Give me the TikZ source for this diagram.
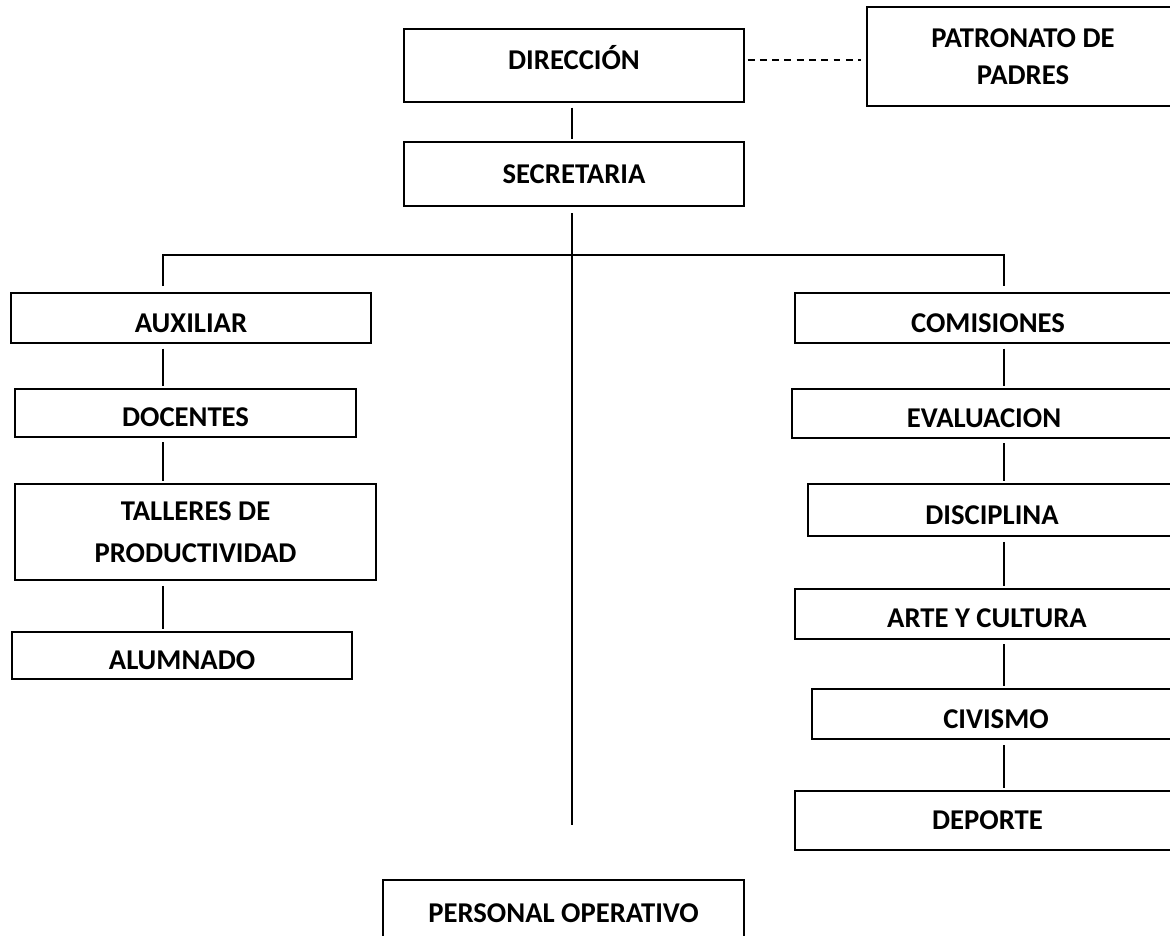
\documentclass[tikz,border=0pt]{standalone}
\usepackage{fontspec}
\setmainfont{Carlito}
\usetikzlibrary{positioning,chains}

\begin{document}
\begin{tikzpicture}[x=0.75pt, y=-0.75pt,
    cargo/.style={rectangle, draw, line width=1.5pt, inner sep=0pt, align=center, font=\bfseries\fontsize{21.5}{30}\selectfont},
    bajo/.style={text height=21pt, text depth=0pt},
    wh/.style 2 args={minimum width=#1*0.75pt, minimum height=#2*0.75pt},
    link/.style={line width=1.1pt, shorten <=3.5pt, shorten >=1.5pt},
    node distance=32.7pt]
    \useasboundingbox (0,0) rectangle (1170,935);
    % Nodes
    \node[cargo, wh={340}{73}, text height=14pt, text depth=8pt] (dir) at (574,65.5) {DIRECCIÓN};
    \node[cargo, wh={340}{64}, below=28.5pt of dir] (sec) {SECRETARIA};
    \node[cargo, wh={312}{99}] (pat) at (1023,56.5) {PATRONATO DE\\[-2pt]PADRES};
    \node[cargo, wh={361}{66}] (per) at (563.5,913) {PERSONAL OPERATIVO};
    % izquierda
    \begin{scope}[start chain=izq going below]
        \node[cargo, bajo, wh={360}{50}, on chain=izq] (aux) at (191,318) {AUXILIAR};
        \node[cargo, bajo, wh={341}{48}, on chain=izq, xshift=-4.1pt] (doc) {DOCENTES};
        \node[cargo, wh={361}{96}, on chain=izq, xshift=7.5pt, yshift=-1.5pt] (tal) {TALLERES DE\\[2pt]PRODUCTIVIDAD};
        \node[cargo, bajo, wh={340}{47}, on chain=izq, xshift=-10.1pt, yshift=-4.5pt] (alu) {ALUMNADO};
    \end{scope}
    % derecha
    \begin{scope}[start chain=der going below]
        \node[cargo, bajo, wh={386}{50}, on chain=der] (com) at (988,318) {COMISIONES};
        \node[cargo, bajo, wh={384}{49}, on chain=der, xshift=-3pt] (eva) {EVALUACION};
        \node[cargo, bajo, wh={368}{52}, on chain=der, xshift=6pt, yshift=-0.75pt] (dis) {DISCIPLINA};
        \node[cargo, bajo, wh={384}{50}, on chain=der, xshift=-3.75pt, yshift=-5.25pt] (art) {ARTE Y CULTURA};
        \node[cargo, bajo, wh={368}{50}, on chain=der, xshift=6.75pt, yshift=-3.75pt] (civ) {CIVISMO};
        \node[cargo, wh={385}{59}, on chain=der, xshift=-6.4pt, yshift=-4.5pt] (dep) {DEPORTE};
    \end{scope}
    \coordinate (tronco) at (572,255);
    \coordinate (fin) at (572,825);
    \coordinate (ramaizq) at (163,255);
    \coordinate (ramader) at (1004,255);
    % Lineas
    \draw[line width=1.1pt, dash pattern=on 5.2pt off 4pt, shorten <=2pt, shorten >=3.5pt] ([yshift=4.1pt]dir.east) -- ([yshift=4.1pt]dir.east -| pat.west);
    \draw[link] (dir.south -| tronco) -- (sec.north -| tronco);
    \draw[link, shorten <=4.5pt, shorten >=0pt] (sec.south -| tronco) -- (fin);
    \draw[link, shorten <=4.5pt, shorten >=4.5pt] (aux.north -| ramaizq) -- (ramaizq) -- (ramader) -- (com.north -| ramader);
    \draw[line width=2pt] ([yshift=-13.5pt]tronco) -- ([yshift=-44.25pt]tronco);
    \draw[link] (aux.south -| ramaizq) -- (doc.north -| ramaizq);
    \draw[link] (doc.south -| ramaizq) -- (tal.north -| ramaizq);
    \draw[link] (tal.south -| ramaizq) -- (alu.north -| ramaizq);
    \draw[link] (com.south -| ramader) -- (eva.north -| ramader);
    \draw[link] (eva.south -| ramader) -- (dis.north -| ramader);
    \draw[link] (dis.south -| ramader) -- (art.north -| ramader);
    \draw[link] (art.south -| ramader) -- (civ.north -| ramader);
    \draw[link] (civ.south -| ramader) -- (dep.north -| ramader);
\end{tikzpicture}
\end{document}
